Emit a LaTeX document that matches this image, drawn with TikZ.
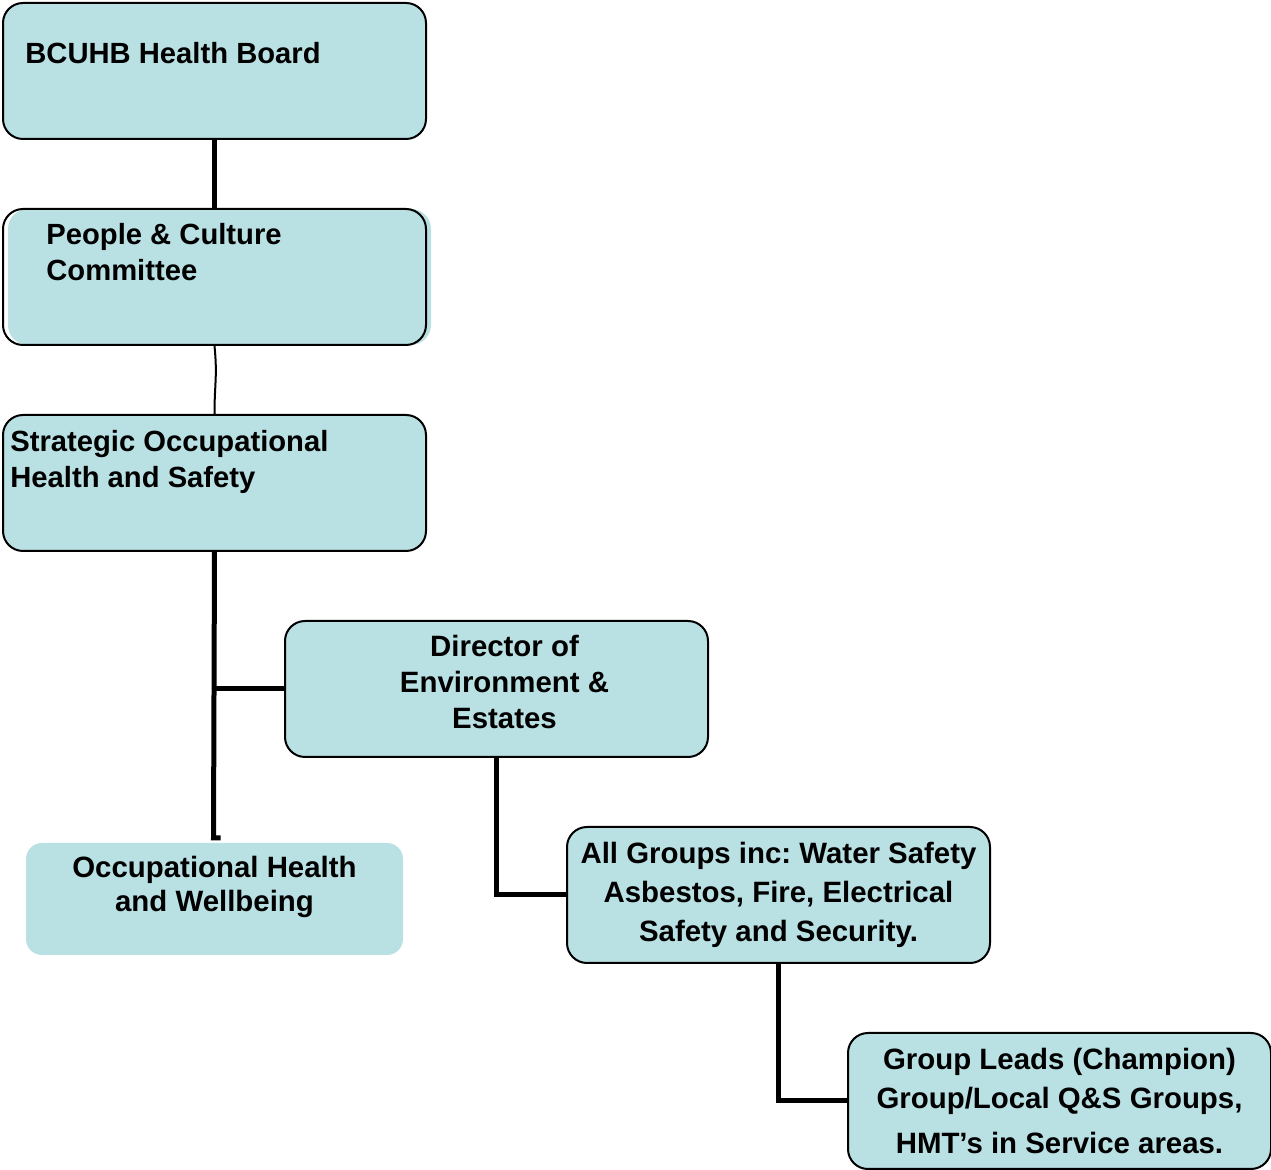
\documentclass[tikz,border=0pt]{standalone}
\usepackage{fontspec}
\setmainfont{Liberation Sans}
\usepackage{xcolor}
\usepackage{tikz}
\usetikzlibrary{positioning,calc}
\definecolor{boxfill}{RGB}{185,224,227}
\frenchspacing

\begin{document}
\begin{tikzpicture}[
    x=0.5pt, y=-0.5pt,
    every node/.style={font=\bfseries},
    box/.style={draw, line width=1pt, rounded corners=10pt, fill=boxfill, anchor=north west,
      minimum width=211.5pt, minimum height=68pt, inner sep=0pt, align=center},
    plainbox/.style={box, draw=none, rounded corners=8pt, minimum width=188.5pt, minimum height=56pt},
    toptext/.style={anchor=north west, align=left, inner sep=0pt, font=\fontsize{14.6}{18}\selectfont\bfseries},
    midtext/.style={align=center, font=\fontsize{14.7}{18}\selectfont\bfseries},
    widetext/.style={font=\fontsize{14.7}{19.5}\selectfont\bfseries},
    link/.style={line width=2.5pt},
    thinlink/.style={line width=1pt},
  ]
  \useasboundingbox (0,0) rectangle (1271,1170);

  % Left column
  \node[box] (board) at (2,2) {};
  \node[toptext] (boardtext) at (25,42) {BCUHB Health Board};
  \node[box, fill=none, preaction={fill=boxfill, transform canvas={xshift=2.5pt}}] (people) at (2,208) {};
  \node[toptext] (peopletext) at (46,223) {People \& Culture\\Committee};
  \node[box] (strategic) at (2,414) {};
  \node[toptext] (strategictext) at (10,430) {Strategic Occupational\\Health and Safety};
  \node[plainbox] (ohw) at (25,842) {};
  \node[midtext] (ohwtext) at ($(ohw.center)+(0,-12)$) {\begin{tabular}{@{}c@{}}Occupational Health\\[-1pt]and Wellbeing\end{tabular}};

  % Estates branch
  \node[box] (director) at (284,620) {};
  \node[midtext] (directortext) at ($(director.center)+(8,-7)$) {Director of\\Environment \&\\Estates};
  \node[box, widetext] (groups) at (566,826) {All Groups inc: Water Safety\\Asbestos, Fire, Electrical\\Safety and Security.};
  \node[box, widetext] (leads) at (847,1032) {Group Leads (Champion)\\Group/Local Q\&S Groups,\\[3pt]HMT's in Service areas.};

  % Connectors
  \coordinate (stem) at (213.5,838);
  \draw[link] (board.south) -- (people.north);
  \draw[thinlink] (people.south) .. controls +(3,30) and +(0,-30) .. (strategic.north);
  \draw[link] (strategic.south) -- (stem) -- ++(7,0);
  \draw[link] (director.west) -- (director.west -| stem);
  \draw[link] (director.south) |- (groups.west);
  \draw[link] (groups.south) |- (leads.west);

\end{tikzpicture}
\end{document}
